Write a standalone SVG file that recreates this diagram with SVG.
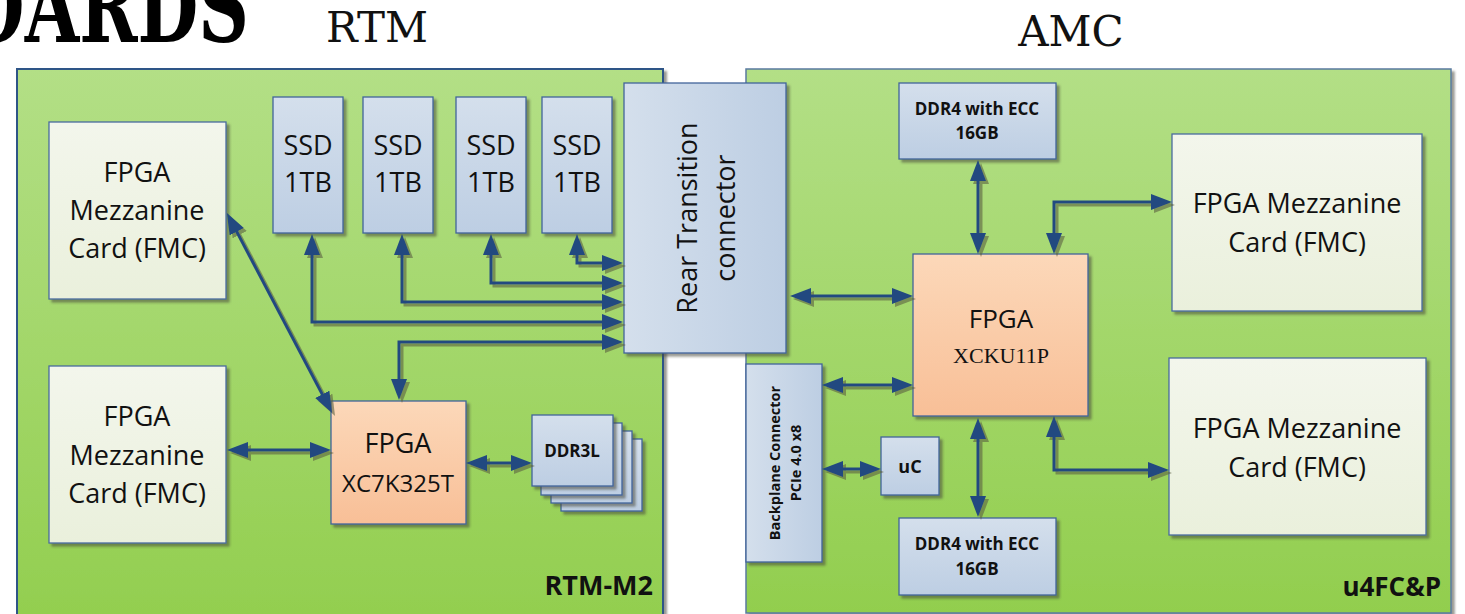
<svg xmlns="http://www.w3.org/2000/svg" width="1465" height="614" viewBox="0 0 1465 614">
<defs>
  <linearGradient id="gPanel" x1="0" y1="0" x2="0" y2="1">
    <stop offset="0" stop-color="#B3DF86"/>
    <stop offset="1" stop-color="#92CE4E"/>
  </linearGradient>
  <linearGradient id="gFmc" x1="0" y1="0" x2="0" y2="1">
    <stop offset="0" stop-color="#F3F6EC"/>
    <stop offset="1" stop-color="#EAF0DC"/>
  </linearGradient>
  <linearGradient id="gBlue" x1="0" y1="0" x2="0" y2="1">
    <stop offset="0" stop-color="#D4DFEC"/>
    <stop offset="1" stop-color="#BDCEE3"/>
  </linearGradient>
  <linearGradient id="gBlueH" x1="0" y1="0" x2="1" y2="0">
    <stop offset="0" stop-color="#D4DFEC"/>
    <stop offset="1" stop-color="#BDCEE3"/>
  </linearGradient>
  <linearGradient id="gFpga" x1="0" y1="0" x2="0" y2="1">
    <stop offset="0" stop-color="#FCD8B9"/>
    <stop offset="1" stop-color="#F8BF97"/>
  </linearGradient>
  <filter id="sh" x="-10%" y="-10%" width="130%" height="130%">
    <feDropShadow dx="3" dy="3" stdDeviation="0.8" flood-color="#4a4a3a" flood-opacity="0.55"/>
  </filter>
  <filter id="shl" x="-10%" y="-10%" width="130%" height="130%">
    <feDropShadow dx="3" dy="3" stdDeviation="0.6" flood-color="#5a6040" flood-opacity="0.6"/>
  </filter>
  <marker id="ah" viewBox="0 0 21 16" refX="11" refY="8" markerWidth="21" markerHeight="16" markerUnits="userSpaceOnUse" orient="auto-start-reverse">
    <path d="M0,0 L21,8 L0,16 z" fill="#214A80"/>
  </marker>
  <style>
    .panel{fill:url(#gPanel);filter:url(#sh)}
    .fmc{fill:url(#gFmc);stroke:#4A6C9E;stroke-width:1.3;filter:url(#sh)}
    .blue{fill:url(#gBlue);stroke:#41649A;stroke-width:1.3;filter:url(#sh)}
    .blueh{fill:url(#gBlueH);stroke:#41649A;stroke-width:1.3;filter:url(#sh)}
    .fpga{fill:url(#gFpga);stroke:#41649A;stroke-width:1.3;filter:url(#sh)}
    .t{font-family:"Open Sans","Liberation Sans",sans-serif;fill:#111;text-anchor:middle}
    .b{font-family:"Open Sans","Liberation Sans",sans-serif;font-weight:700;fill:#111;text-anchor:middle}
    .title{font-family:"DejaVu Serif","Liberation Serif",serif;fill:#111;text-anchor:middle}
    .c{fill:none;stroke:#214A80;stroke-width:3;marker-start:url(#ah);marker-end:url(#ah)}
  </style>
</defs>

<!-- Titles -->
<text transform="translate(249,42) scale(1,1.3)" font-family="DejaVu Serif Condensed, DejaVu Serif, serif" font-weight="700" font-size="78" fill="#000" text-anchor="end">BOARDS</text>
<text class="title" x="377" y="42" font-size="42">RTM</text>
<text class="title" x="1071" y="46" font-size="42">AMC</text>

<!-- Panels -->
<g id="panel-rtm">
  <rect class="panel" x="17" y="69" width="646" height="560" stroke="#2E5487" stroke-width="2"/>
  <text class="b" x="653" y="595" font-size="27" style="text-anchor:end">RTM-M2</text>
</g>
<g id="panel-amc">
  <rect class="panel" x="746" y="69" width="705" height="544" stroke="#5A7BA0" stroke-width="1.5"/>
  <text class="b" x="1441" y="596" font-size="26" style="text-anchor:end">u4FC&amp;P</text>
</g>

<!-- RTM nodes -->
<g id="fmc-l1">
  <rect class="fmc" x="49" y="122" width="177" height="177"/>
  <text class="t" x="137" y="182" font-size="27">FPGA</text>
  <text class="t" x="137" y="220" font-size="27">Mezzanine</text>
  <text class="t" x="137" y="258" font-size="27">Card (FMC)</text>
</g>
<g id="fmc-l2">
  <rect class="fmc" x="49" y="366" width="177" height="177"/>
  <text class="t" x="137" y="426" font-size="27">FPGA</text>
  <text class="t" x="137" y="465" font-size="27">Mezzanine</text>
  <text class="t" x="137" y="503" font-size="27">Card (FMC)</text>
</g>
<g id="ssd1">
  <rect class="blue" x="273" y="97" width="70" height="136"/>
  <text class="t" x="308" y="155" font-size="27">SSD</text>
  <text class="t" x="308" y="192" font-size="27">1TB</text>
</g>
<g id="ssd2">
  <rect class="blue" x="363" y="97" width="70" height="136"/>
  <text class="t" x="398" y="155" font-size="27">SSD</text>
  <text class="t" x="398" y="192" font-size="27">1TB</text>
</g>
<g id="ssd3">
  <rect class="blue" x="456" y="97" width="70" height="136"/>
  <text class="t" x="491" y="155" font-size="27">SSD</text>
  <text class="t" x="491" y="192" font-size="27">1TB</text>
</g>
<g id="ssd4">
  <rect class="blue" x="542" y="97" width="70" height="136"/>
  <text class="t" x="577" y="155" font-size="27">SSD</text>
  <text class="t" x="577" y="192" font-size="27">1TB</text>
</g>
<g id="rear-connector">
  <rect class="blueh" x="624" y="83" width="162" height="270"/>
  <text class="t" font-size="27" transform="translate(697,218) rotate(-90)">Rear Transition</text>
  <text class="t" font-size="27" transform="translate(735,218) rotate(-90)">connector</text>
</g>
<g id="fpga-rtm">
  <rect class="fpga" x="331" y="401" width="135" height="123"/>
  <text class="t" x="398" y="453" font-size="27">FPGA</text>
  <text class="t" x="398" y="492" font-size="24">XC7K325T</text>
</g>
<g id="ddr3l">
  <rect class="blue" x="561" y="439" width="81" height="72"/>
  <rect class="blue" x="551" y="431" width="81" height="72"/>
  <rect class="blue" x="541" y="423" width="81" height="72"/>
  <rect class="blue" x="532" y="415" width="81" height="71"/>
  <text class="b" x="572" y="457" font-size="17">DDR3L</text>
</g>

<!-- AMC nodes -->
<g id="ddr4-top">
  <rect class="blue" x="899" y="83" width="157" height="76"/>
  <text class="b" x="977" y="115" font-size="17">DDR4 with ECC</text>
  <text class="b" x="977" y="139" font-size="17">16GB</text>
</g>
<g id="fpga-amc">
  <rect class="fpga" x="913" y="254" width="175" height="162"/>
  <text class="t" x="1001" y="328" font-size="26">FPGA</text>
  <text x="1001" y="363" font-size="22" font-family="Liberation Serif, serif" fill="#111" text-anchor="middle">XCKU11P</text>
</g>
<g id="backplane">
  <rect class="blueh" x="746" y="364" width="76" height="198"/>
  <text class="b" font-size="14.5" transform="translate(780,463) rotate(-90)">Backplane Connector</text>
  <text class="b" font-size="14.5" transform="translate(801,463) rotate(-90)">PCIe 4.0 x8</text>
</g>
<g id="uc">
  <rect class="blue" x="881" y="437" width="58" height="58"/>
  <text class="b" x="910" y="473" font-size="18">uC</text>
</g>
<g id="ddr4-bottom">
  <rect class="blue" x="899" y="518" width="157" height="77"/>
  <text class="b" x="977" y="550" font-size="17">DDR4 with ECC</text>
  <text class="b" x="977" y="575" font-size="17">16GB</text>
</g>
<g id="fmc-r1">
  <rect class="fmc" x="1172" y="134" width="250" height="177"/>
  <text class="t" x="1297" y="213" font-size="27">FPGA Mezzanine</text>
  <text class="t" x="1297" y="252" font-size="27">Card (FMC)</text>
</g>
<g id="fmc-r2">
  <rect class="fmc" x="1169" y="358" width="257" height="177"/>
  <text class="t" x="1297" y="438" font-size="27">FPGA Mezzanine</text>
  <text class="t" x="1297" y="477" font-size="27">Card (FMC)</text>
</g>

<!-- Connectors -->
<g id="connectors" filter="url(#shl)">
  <path class="c" d="M231.6,221.9 L327.4,404.1"/>
  <path class="c" d="M237,450 L321,450"/>
  <path class="c" d="M476,463 L522,463"/>
  <path class="c" d="M399,390 L399,342 L613,342"/>
  <path class="c" d="M312,244 L312,322 L613,322"/>
  <path class="c" d="M402,244 L402,302 L613,302"/>
  <path class="c" d="M491,244 L491,283 L613,283"/>
  <path class="c" d="M577,244 L577,263 L613,263"/>
  <path class="c" d="M800,296 L903,296"/>
  <path class="c" d="M978,170 L978,244"/>
  <path class="c" d="M1054,244 L1054,202 L1162,202"/>
  <path class="c" d="M832,385 L903,385"/>
  <path class="c" d="M832,469 L871,469"/>
  <path class="c" d="M978,428 L978,507"/>
  <path class="c" d="M1054,426 L1054,470 L1159,470"/>
</g>
</svg>
